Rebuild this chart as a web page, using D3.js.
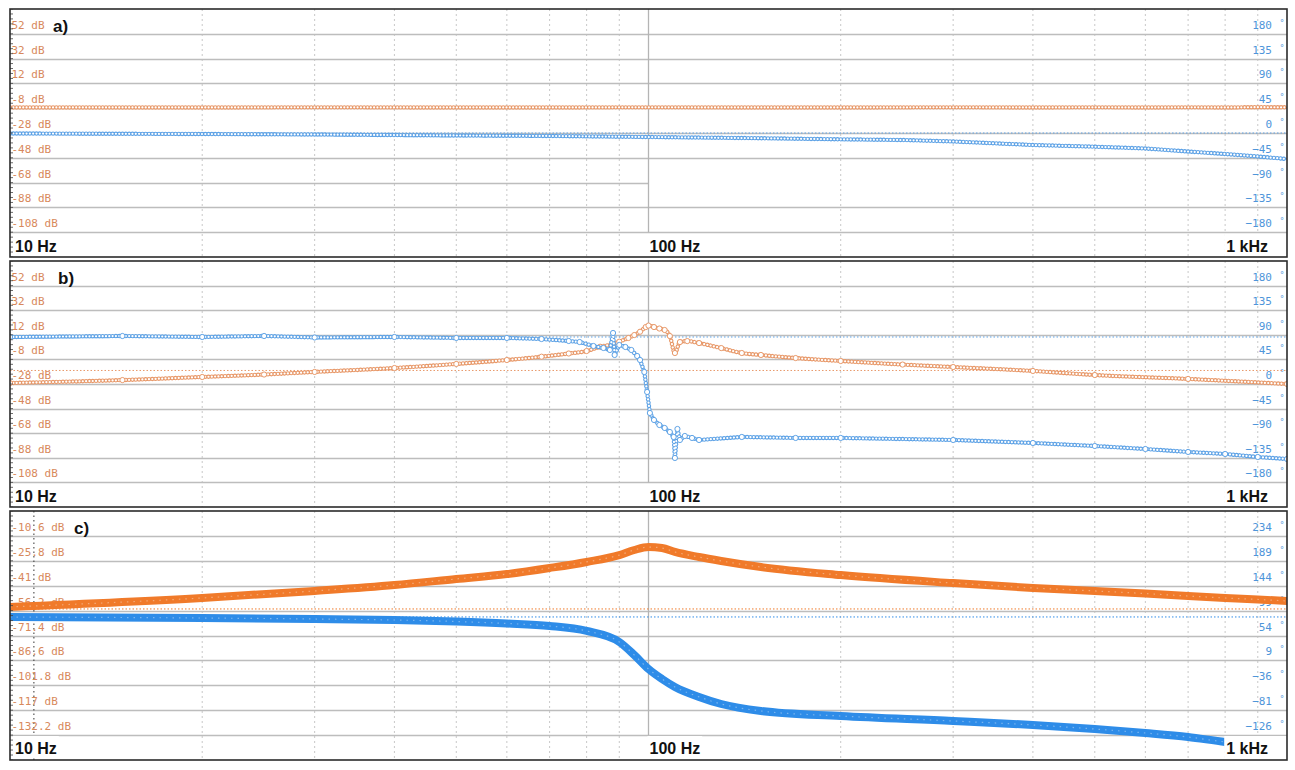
<!DOCTYPE html>
<html><head><meta charset="utf-8">
<script src="https://cdn.jsdelivr.net/npm/d3@7"></script>
<style>body{margin:0;background:#fff;overflow:hidden}</style>
</head><body>
<svg id="chart" width="1295" height="770"></svg>
<script>
// ---------- tick labels ----------
const magTicksAB = ["52","32","12","-8","-28","-48","-68","-88","-108"];
const phTicksAB = ["180","135","90","45","0","-45","-90","-135","-180"];
const magTicksC = ["-10.6","-25.8","-41","-56.2","-71.4","-86.6","-101.8","-117","-132.2"];
const phTicksC = ["234","189","144","99","54","9","-36","-81","-126"];
const freqLabels = ["10 Hz","100 Hz","1 kHz"];
const freqLabelPos = [10,100,1000];
const minorFreqs = [20,30,40,50,60,70,80,90,200,300,400,500,600,700,800,900];
const panelLabels = ["a)","b)","c)"];

// ---------- panel a ----------
const aMagF = [10,20,30,50,70,100,150,200,300,400,500,600,700,800,900,1000];
const aMag  = [-7.4,-7.4,-7.3,-7.4,-7.4,-7.3,-7.4,-7.4,-7.3,-7.4,-7.3,-7.4,-7.3,-7.4,-7.2,-7.3];
const aPhF  = [10,20,30,50,70,100,150,200,250,300,400,500,600,700,800,900,1000];
const aPh   = [-0.9,-1.8,-2.7,-4.5,-5.4,-7.3,-9.5,-11.5,-12.7,-15.4,-21.8,-24.9,-28.1,-33.6,-38.1,-42.6,-47.2];
const aRefMag = -7.4, aRefPh = 0;

// ---------- panel b ----------
const bMagF = [10,15,20,25,30,40,50,60,68,75,80,84,88,90,93,95,97,99,100,102,104,106,108,110,112,115,120,130,140,150,170,200,250,300,400,500,700,1000];
const bMag  = [-27.2,-24.8,-22.3,-20.3,-18.2,-15,-11.7,-8.5,-5.8,-3.2,-1.2,2.3,4.5,6.4,9.4,11.8,14.5,18.3,19.5,18.3,17.1,15.9,11,-2.8,6.1,6.9,5.3,1.2,-2.8,-4.4,-6.9,-9.3,-12.2,-14.2,-17.4,-20.7,-23.9,-28];
const bPhF  = [10,15,20,25,30,40,50,60,68,75,78,82,85,87,88,88.5,90,92,94,96,97,98.5,99.5,100.5,102,104,106,108,109.5,110,111,112,114,117,120,140,170,200,300,400,500,600,700,800,900,1000];
const bPh   = [86,87.8,86,87.8,85.1,86,84.2,84.2,82.3,78.7,76.8,69.5,65.9,62.2,93.3,53.1,71.4,67.7,62.2,51.2,43.9,21.9,-14.6,-53,-65.8,-75,-80.4,-87.8,-96.9,-135.3,-82.3,-102.4,-95.1,-98.7,-102.4,-96.9,-98.7,-98.7,-102.4,-107.9,-113.4,-118.9,-124.3,-128,-133.5,-137.2];
const bRefMag = -17, bRefPh = 86;

// ---------- panel c ----------
const cF    = [10,20,30,40,50,60,70,80,90,95,100,105,110,120,130,150,200,300,400,500,600,700,800,900,1000];
const cMag  = [-54,-48.5,-44.2,-40.6,-36.9,-33.9,-30.2,-26.5,-22.3,-19.2,-17.4,-18,-20.4,-23.5,-25.9,-29.6,-34.5,-39.4,-42.4,-44.2,-45.8,-47.3,-48.5,-49.4,-50.3];
const cPh   = [87.4,85.6,83.8,82,79.3,75.7,71.2,62.2,42.3,18.8,-6.6,-24.6,-39,-57,-69.8,-82.4,-91.5,-100.5,-107.7,-115,-122.2,-129.4,-138.4,-143.8,-151];
const cRefMag = -55.2, cRefPh = 87.5;
const cCursorF = 10.9;

// ---------- layout ----------
const W = 1295;
const L = 10, R = 1287;
const panels = [
  {top:9,   bottom:257, magT:magTicksAB, phT:phTicksAB, magStep:20, phStep:45, labX:53,
   magF:aMagF, mag:aMag, phF:aPhF, ph:aPh, refMag:aRefMag, refPh:aRefPh, style:"light", hzY:246, dots:false},
  {top:261, bottom:507, magT:magTicksAB, phT:phTicksAB, magStep:20, phStep:45, labX:58,
   magF:bMagF, mag:bMag, phF:bPhF, ph:bPh, refMag:bRefMag, refPh:bRefPh, style:"light", hzY:496, dots:true},
  {top:511, bottom:760, magT:magTicksC, phT:phTicksC, magStep:15.2, phStep:45, labX:74,
   magF:cF, mag:cMag, phF:cF, ph:cPh, refMag:cRefMag, refPh:cRefPh, style:"heavy", hzY:748, cursor:cCursorF}
];

const svg = d3.select("#chart");
svg.append("rect").attr("width",W).attr("height",770).attr("fill","#fff");
const x = d3.scaleLog().domain([10,1000]).range([L,R]);

const ORL = "#E8996A", BLL = "#5FA3E6";      // light series
const ORH = "#F07A2A", BLH = "#2E8CE8";      // heavy series
const ORT = "#D8895C", BLT = "#4E95DA";      // tick text

panels.forEach((p,i)=>{
  const g = svg.append("g");
  const t0 = +p.magT[0], tp0 = +p.phT[0];
  const yM = d3.scaleLinear().domain([t0+p.magStep, t0 - 9*p.magStep]).range([p.top,p.bottom]);
  const yP = d3.scaleLinear().domain([tp0+p.phStep, tp0 - 9*p.phStep]).range([p.top,p.bottom]);
  const clipId = "clip"+i;
  svg.append("clipPath").attr("id",clipId).append("rect")
    .attr("x",L).attr("y",p.top).attr("width",R-L).attr("height",p.bottom-p.top);
  g.attr("clip-path",`url(#${clipId})`);

  // vertical dotted grid
  g.selectAll(".vd").data(minorFreqs).join("line")
    .attr("x1",d=>x(d)).attr("x2",d=>x(d)).attr("y1",p.top).attr("y2",p.bottom)
    .attr("stroke","#c8c8c8").attr("stroke-width",1).attr("stroke-dasharray","2,3");
  // horizontal grid
  p.magT.forEach((t,k)=>{
    const y = Math.round(yM(+t))+0.5;
    g.append("line").attr("x1",L).attr("x2", k===6 ? x(100) : R)
      .attr("y1",y).attr("y2",y).attr("stroke","#bdbdbd").attr("stroke-width",1.5);
  });
  // 100 Hz solid vertical
  g.append("line").attr("x1",x(100)).attr("x2",x(100)).attr("y1",p.top).attr("y2",yM(+p.magT[8]))
    .attr("stroke","#b4b4b4").attr("stroke-width",1.3);
  if (p.cursor) {
    g.append("line").attr("x1",x(p.cursor)).attr("x2",x(p.cursor)).attr("y1",p.top).attr("y2",p.bottom)
      .attr("stroke","#333").attr("stroke-width",1).attr("stroke-dasharray","1.5,3");
  }

  // axis labels (left magnitude)
  p.magT.forEach(t=>{
    g.append("text").attr("x",L+1.5).attr("y",yM(+t)-5)
      .attr("font-family","DejaVu Sans Mono, Liberation Mono, monospace").attr("font-size",11)
      .attr("fill",ORT).text(t+" dB");
  });
  // right phase labels
  p.phT.forEach(t=>{
    const yy = yP(+t)-5;
    g.append("text").attr("x",1272).attr("y",yy).attr("text-anchor","end")
      .attr("font-family","DejaVu Sans Mono, Liberation Mono, monospace").attr("font-size",11)
      .attr("fill",BLT).text(t.replace("-","\u2212"));
    g.append("text").attr("x",1280).attr("y",yy-3)
      .attr("font-family","DejaVu Sans, sans-serif").attr("font-size",8)
      .attr("fill",BLT).text("\u00B0");
  });

  // reference dotted lines
  const heavy = p.style==="heavy";
  g.append("line").attr("x1",L).attr("x2",R).attr("y1",yM(p.refMag)).attr("y2",yM(p.refMag))
    .attr("stroke",heavy?ORH:ORL).attr("stroke-width",1).attr("stroke-dasharray","1.5,2");
  g.append("line").attr("x1",L).attr("x2",R).attr("y1",yP(p.refPh)).attr("y2",yP(p.refPh))
    .attr("stroke",heavy?BLH:BLL).attr("stroke-width",1).attr("stroke-dasharray","1.5,2");

  const lineM = d3.line().x((d,j)=>x(p.magF[j])).y(d=>yM(d)).curve(d3.curveMonotoneX);
  const lineP = d3.line().x((d,j)=>x(p.phF[j])).y(d=>yP(d)).curve(heavy?d3.curveMonotoneX:d3.curveLinear);

  function drawSeries(vals, fs, line, yS, col){
    const d = line(vals);
    if (heavy) {
      g.append("path").attr("d",d).attr("fill","none").attr("stroke",col)
        .attr("stroke-width",8).attr("stroke-linejoin","round").attr("stroke-linecap","round");
      g.append("path").attr("d",d).attr("fill","none").attr("stroke","#fff")
        .attr("stroke-opacity",0.35).attr("stroke-width",1.2).attr("stroke-dasharray","1.5,5");
    } else {
      g.append("path").attr("d",d).attr("fill","none").attr("stroke",col)
        .attr("stroke-width",1.2).attr("stroke-linejoin","round");
      // ring texture (chain of open circle markers look)
      g.append("path").attr("d",d).attr("fill","none").attr("stroke",col)
        .attr("stroke-width",4.4).attr("stroke-linecap","round").attr("stroke-dasharray","0.01,3.3");
      g.append("path").attr("d",d).attr("fill","none").attr("stroke","#fff")
        .attr("stroke-width",2.2).attr("stroke-linecap","round").attr("stroke-dasharray","0.01,3.3");
      if (p.dots) {
        g.selectAll(null).data(vals).join("circle")
          .attr("cx",(v,j)=>x(fs[j])).attr("cy",v=>yS(v)).attr("r",2.6)
          .attr("fill","#fff").attr("stroke",col).attr("stroke-width",1);
      }
    }
  }
  drawSeries(p.mag, p.magF, lineM, yM, heavy?ORH:ORL);
  drawSeries(p.ph, p.phF, lineP, yP, heavy?BLH:BLL);

  // frequency labels with white boxes
  freqLabels.forEach((lab,j)=>{
    const f = freqLabelPos[j];
    const anchor = j===2 ? "end" : "start";
    const tx = j===0 ? L+5 : (j===1 ? x(f)+1 : 1268);
    const tg = g.append("g");
    const tt = tg.append("text").attr("x",tx).attr("y",p.hzY+6).attr("text-anchor",anchor)
      .attr("font-family","Liberation Sans, Arial, sans-serif").attr("font-weight","bold")
      .attr("font-size",16).attr("fill","#111").text(lab);
    const bb = tt.node().getBBox();
    const bx = bb.x-2, bw = j===2 ? (R - bx) : bb.width+4;
    tg.insert("rect","text").attr("x",bx).attr("y",p.hzY-12).attr("width",bw)
      .attr("height",22).attr("fill","#fff");
  });

  // panel label
  g.append("text").attr("x",p.labX).attr("y",p.top+23)
    .attr("font-family","Liberation Sans, Arial, sans-serif").attr("font-weight","bold")
    .attr("font-size",17).attr("fill","#111").text(panelLabels[i]);

  // minor ticks on left frame
  const yTicks = d3.range(0,51).map(k=>p.top + k*(p.bottom-p.top)/50);
  g.selectAll(".mt").data(yTicks).join("line")
    .attr("x1",L).attr("x2",L+3).attr("y1",v=>v).attr("y2",v=>v)
    .attr("stroke","#444").attr("stroke-width",0.8);

  // frame
  svg.append("rect").attr("x",L).attr("y",p.top).attr("width",R-L).attr("height",p.bottom-p.top)
    .attr("fill","none").attr("stroke","#2b2b2b").attr("stroke-width",1.6);
});
</script>
</body></html>
